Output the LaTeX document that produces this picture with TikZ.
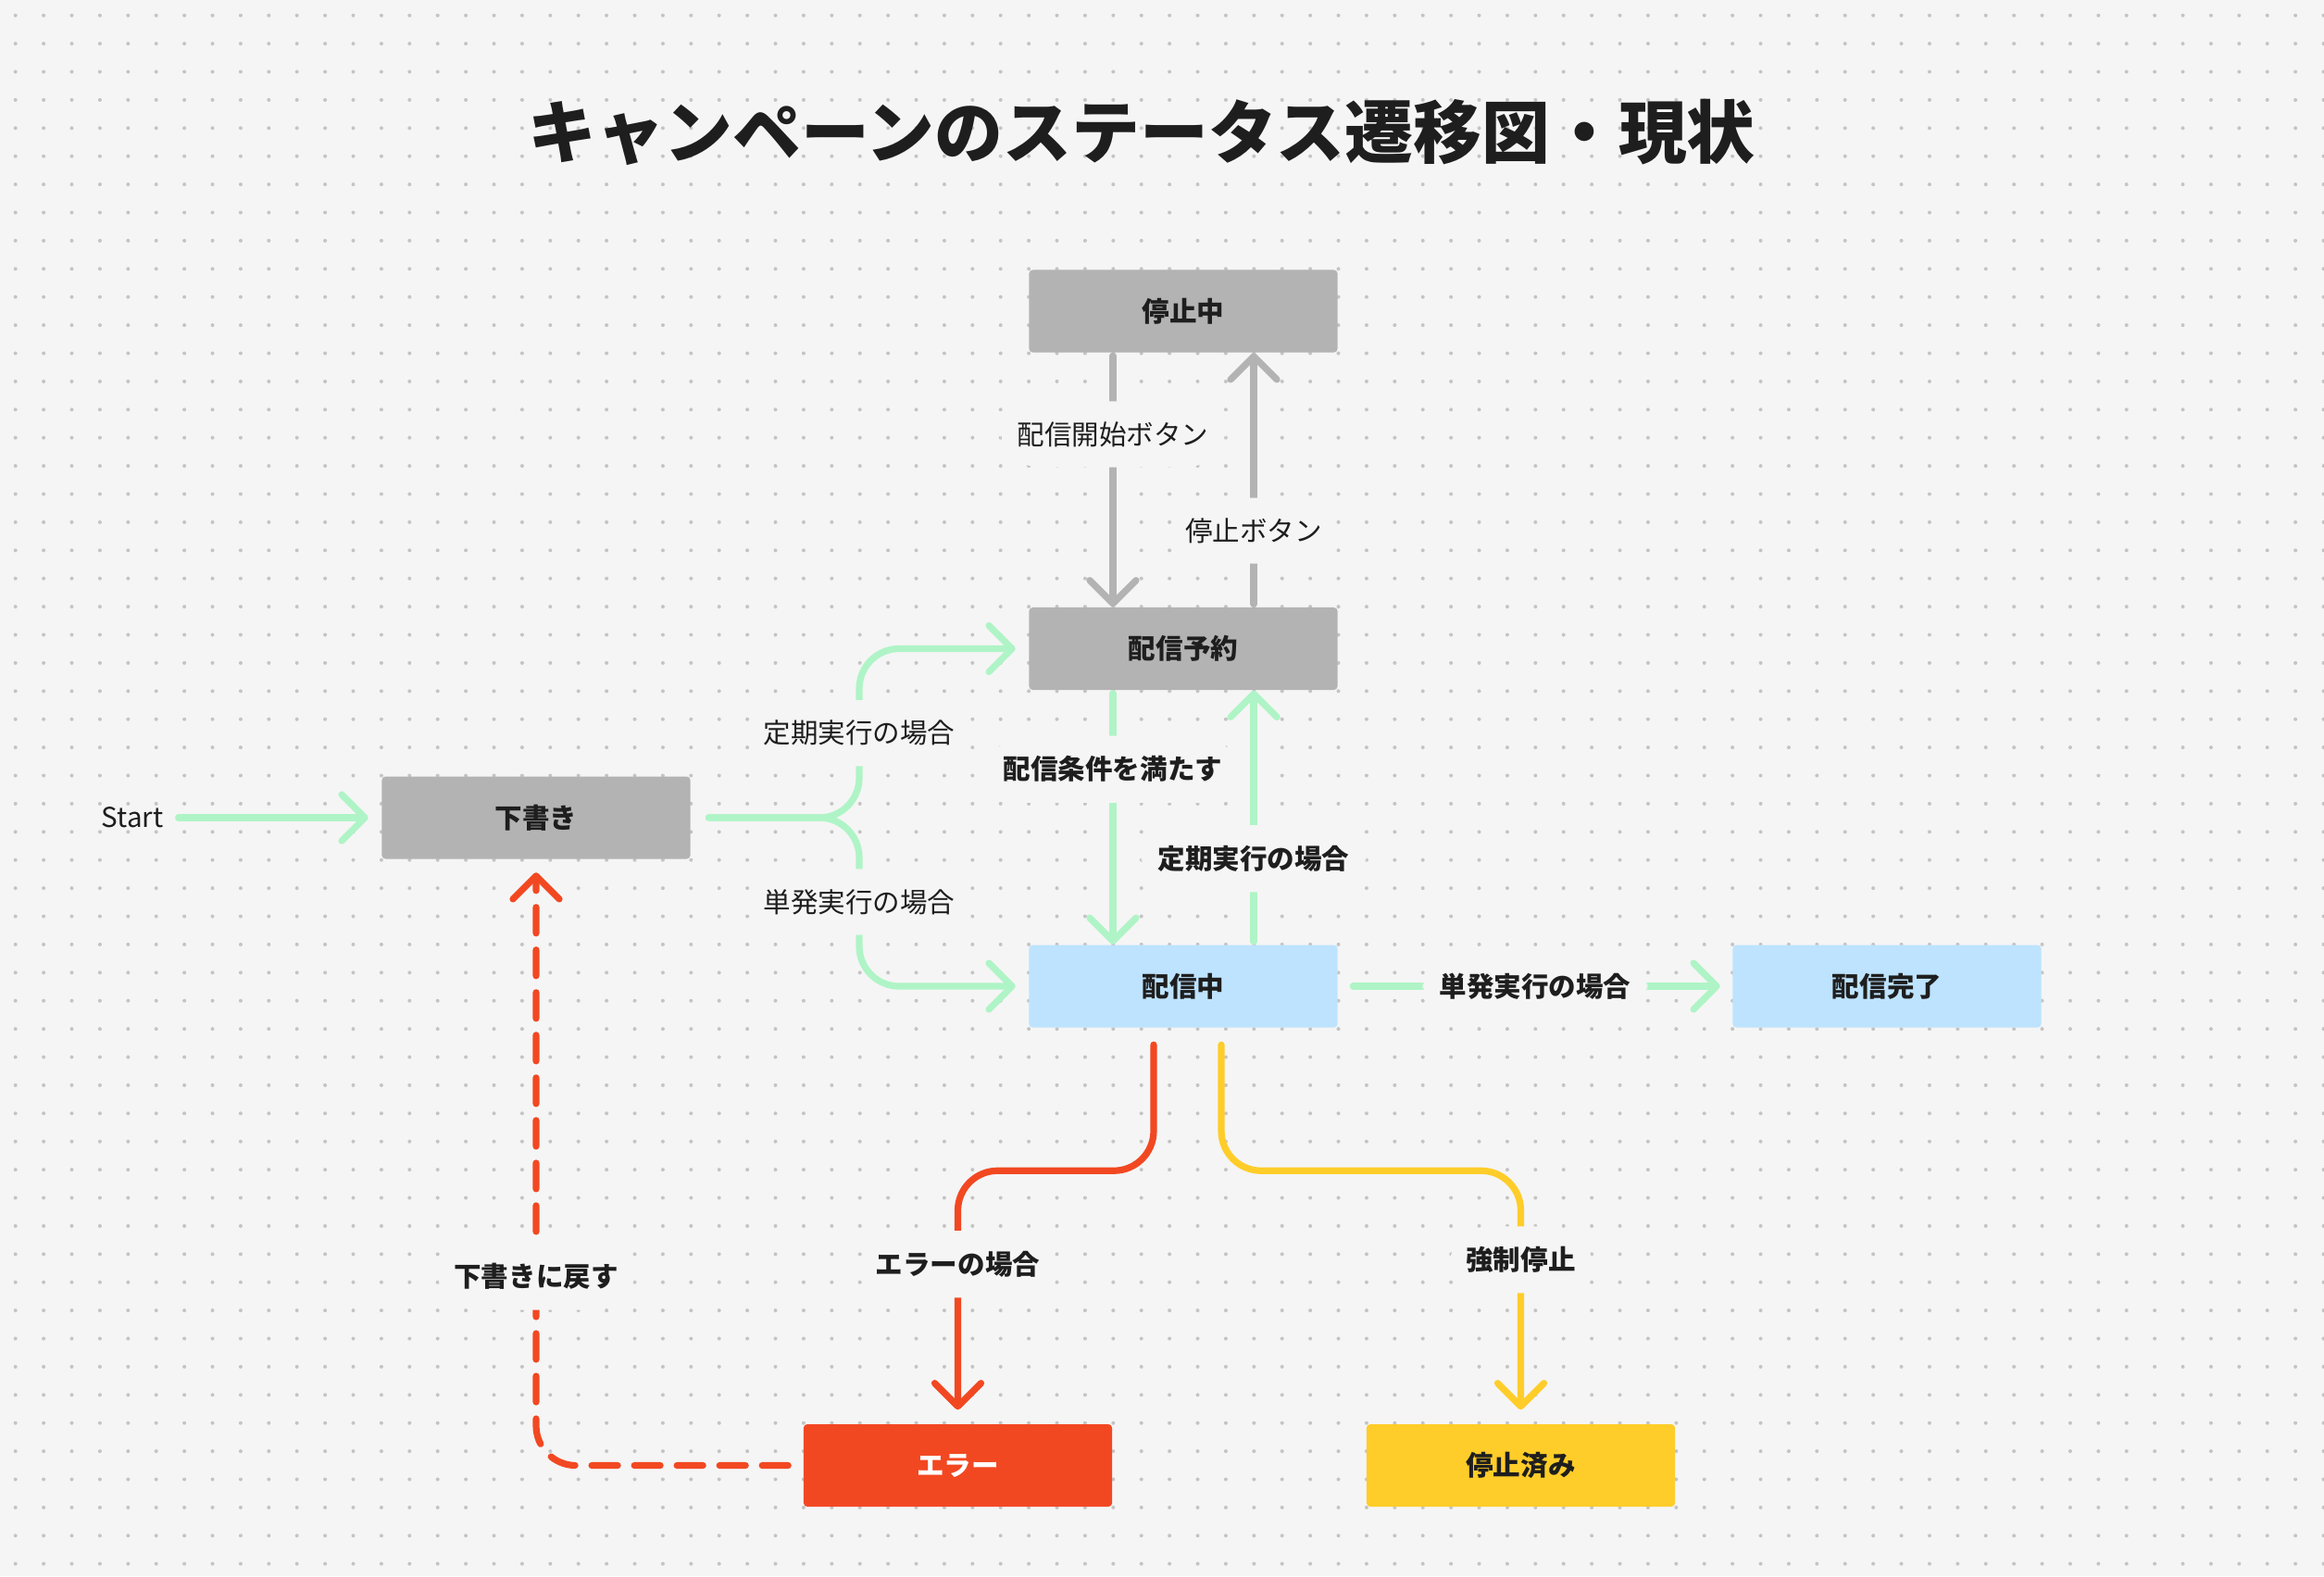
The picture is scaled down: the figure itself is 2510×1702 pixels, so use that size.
\documentclass[tikz,border=0pt]{standalone}
\usepackage{fontspec}
\setmainfont{Noto Sans CJK JP}
\usetikzlibrary{arrows.meta}
\definecolor{canvas}{HTML}{F5F5F5}
\definecolor{dotc}{HTML}{C4C4C4}
\definecolor{ink}{HTML}{1E1E1E}
\definecolor{greybox}{HTML}{B3B3B3}
\definecolor{bluebox}{HTML}{BDE3FF}
\definecolor{redbox}{HTML}{F24822}
\definecolor{yellowbox}{HTML}{FFCD29}
\definecolor{grn}{HTML}{AFF4C6}

\begin{document}
\begin{tikzpicture}[x=0.01cm, y=-0.01cm,
	state/.style={rectangle, rounded corners=0.04cm, minimum width=3.33cm, minimum height=0.89cm, inner sep=0pt, text=ink, font=\fontsize{8.4}{10}\selectfont\bfseries},
	lbl/.style={fill=canvas, inner xsep=0.18cm, inner ysep=0.22cm, text=ink, font=\fontsize{8.4}{10}\selectfont},
	blbl/.style={lbl, font=\fontsize{8.4}{10}\selectfont\bfseries},
	conn/.style={line width=0.072cm, line cap=round, rounded corners=0.43cm, -{Straight Barb[length=0.25cm, width=0.5cm, round]}}]
		\fill[canvas] (0,0) rectangle (2510,1702);
		\useasboundingbox (0,0) rectangle (2510,1702);
		\foreach \i in {0,...,82}
			\foreach \j in {0,...,55}
				\fill[dotc] (16.7+30.4*\i, 16.7+30.4*\j) circle[radius=0.02cm];
		
		\node[text=ink, font=\fontsize{21}{25}\selectfont\bfseries] (title) at (1233,143) {キャンペーンのステータス遷移図・現状};
		
		\node[state, fill=greybox] (paused) at (1278,336) {停止中};
		\node[state, fill=greybox] (sched) at (1278,700.5) {配信予約};
		\node[state, fill=greybox] (draft) at (579,883) {下書き};
		\node[state, fill=bluebox] (sending) at (1278,1065) {配信中};
		\node[state, fill=bluebox] (done) at (2038,1065) {配信完了};
		\node[state, fill=redbox, text=white] (error) at (1034.5,1582.5) {エラー};
		\node[state, fill=yellowbox] (halted) at (1642.5,1582.5) {停止済み};
		\node[text=ink, font=\fontsize{8.4}{10}\selectfont] (start) at (143,883) {Start};
		
		\draw[conn, draw=grn, shorten <=0.04cm, shorten >=0.14cm] (start) -- (draft);
		\draw[conn, draw=grn, shorten <=0.19cm, shorten >=0.14cm] (draft) -- (928,883) |- node[lbl, pos=0.25] {定期実行の場合} (sched);
		\draw[conn, draw=grn, shorten <=0.19cm, shorten >=0.14cm] (draft) -- (928,883) |- node[lbl, pos=0.25] {単発実行の場合} (sending);
		
		\draw[conn, draw=greybox, shorten <=0.03cm] ([xshift=-0.76cm]paused.south) -- node[lbl, pos=0.32] {配信開始ボタン} ([xshift=-0.76cm]sched.north);
		\draw[conn, draw=greybox, shorten <=0.03cm] ([xshift=0.76cm]sched.north) -- node[lbl, pos=0.3] {停止ボタン} ([xshift=0.76cm]paused.south);
		\draw[conn, draw=grn, shorten <=0.03cm] ([xshift=-0.76cm]sched.south) -- node[blbl, pos=0.31] {配信条件を満たす} ([xshift=-0.76cm]sending.north);
		\draw[conn, draw=grn, shorten <=0.03cm] ([xshift=0.76cm]sending.north) -- node[blbl, pos=0.338] {定期実行の場合} ([xshift=0.76cm]sched.south);
		
		\draw[conn, draw=grn, shorten <=0.16cm, shorten >=0.13cm] (sending) -- node[blbl] {単発実行の場合} (done);
		\draw[conn, draw=redbox, shorten <=0.18cm, shorten >=0.15cm] ([xshift=-0.32cm]sending.south) -- ++(0,154) -| node[blbl, pos=0.685] {エラーの場合} (error);
		\draw[conn, draw=yellowbox, shorten <=0.18cm, shorten >=0.15cm] ([xshift=0.41cm]sending.south) -- ++(0,154) -| node[blbl, pos=0.676] {強制停止} (halted);
		\draw[conn, draw=redbox, dash pattern=on 0.28cm off 0.18cm, shorten <=0.16cm, shorten >=0.14cm] (error) -| node[blbl, pos=0.656] {下書きに戻す} (draft);
	\end{tikzpicture}
\end{document}
